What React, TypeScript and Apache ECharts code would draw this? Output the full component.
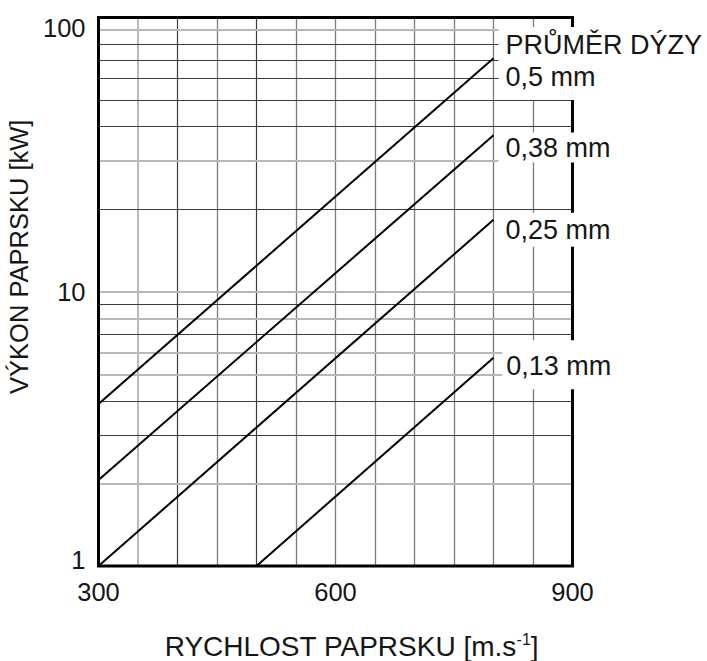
import React, { useEffect, useRef } from "react";
import * as echarts from "echarts";

// ---- data ----
const xMin = 300;
const xMax = 900;
const xTickStep = 300;
const yTicks = [1, 10, 100];
const verticalGrid = [350, 400, 450, 500, 550, 600, 650, 700, 750, 800, 850];
const verticalShade = ["light", "dark", "mid", "dark", "mid", "mid", "mid", "mid", "mid", "mid", "mid"];
const horizontalGrid = [2, 3, 4, 5, 6, 7, 8, 9, 10, 20, 30, 40, 50, 60, 70, 80, 90];
const horizontalShade = ["light", "dark", "dark", "light", "light", "dark", "light", "dark", "light", "dark", "light", "dark", "dark", "dark", "dark", "dark", "light"];

const nozzleLabels = ["0,5 mm", "0,38 mm", "0,25 mm", "0,13 mm"];
const headerLabel = "PRŮMĚR DÝZY";
const speeds05 = [300, 800];
const power05 = [3.9, 71];
const speeds038 = [300, 800];
const power038 = [2.06, 37.2];
const speeds025 = [300, 800];
const power025 = [1, 18.3];
const speeds013 = [500, 800];
const power013 = [1, 5.75];

const yTitle = "VÝKON PAPRSKU [kW]";
const xTitleMain = "RYCHLOST PAPRSKU [m.s";
const xTitleSup = "-1";
const xTitleEnd = "]";

const FONT = "'Liberation Sans', Arial, Helvetica, sans-serif";
const TXT = "#161616";
const LABEL_FS = 27;

const shadeStyle: Record<string, any> = {
  light: { color: "#b8b8b8", width: 2 },
  mid: { color: "#7c7c7c", width: 1.3 },
  dark: { color: "#3c3c3c", width: 1.2 },
};

// label placement styles (per series)
const labelStyles = [
  { offset: [0, 5.2], padding: [2, 0, 7, 7], lh: 32 },
  { offset: [0, 12.3], padding: [2, 6, 2, 7], lh: 26 },
  { offset: [0, 10], padding: [3, 6, 3, 7], lh: 28 },
  { offset: [3.7, 7.2], padding: [11, 4, 8, 4], lh: 30 },
];

function buildSeries(name: string, xs: number[], ys: number[], idx: number, header?: string) {
  const st = labelStyles[idx];
  const data: any[] = xs.map((x, i) => [x, ys[i]]);
  const last = data.length - 1;
  data[last] = {
    value: data[last],
    label: {
      show: true,
      position: "right",
      distance: 5,
      offset: st.offset,
      backgroundColor: "#ffffff",
      padding: st.padding,
      align: "left",
      formatter: header ? `{h|${header}}\n{v|${name}}` : `{v|${name}}`,
      rich: {
        h: { fontSize: LABEL_FS, lineHeight: 32, fontFamily: FONT, color: TXT },
        v: { fontSize: LABEL_FS, lineHeight: st.lh, fontFamily: FONT, color: TXT },
      },
    },
  };
  return {
    name,
    type: "line",
    data,
    z: 3,
    showSymbol: true,
    symbol: "circle",
    symbolSize: 0,
    lineStyle: { color: "#000", width: 2 },
    itemStyle: { color: "#000" },
    silent: true,
    clip: false,
  };
}

export default function App() {
  const ref = useRef<HTMLDivElement>(null);
  useEffect(() => {
    document.body.style.margin = "0";
    document.body.style.overflow = "hidden";
    document.documentElement.style.overflow = "hidden";
    const chart = echarts.init(ref.current!, null, { renderer: "svg" });
    const gridLines: any[] = [];
    verticalGrid.forEach((v, i) => {
      gridLines.push({ xAxis: v, lineStyle: { ...shadeStyle[verticalShade[i]], type: "solid" } });
    });
    horizontalGrid.forEach((v, i) => {
      gridLines.push({ yAxis: v, lineStyle: { ...shadeStyle[horizontalShade[i]], type: "solid" } });
    });
    chart.setOption({
      animation: false,
      backgroundColor: "#ffffff",
      grid: {
        left: 98.5,
        top: 17.5,
        width: 474,
        height: 548.5,
        outerBoundsMode: "none",
        containLabel: false,
        show: true,
        z: 2,
        borderColor: "#000",
        borderWidth: 3,
        backgroundColor: "transparent",
      },
      xAxis: {
        type: "value",
        min: xMin,
        max: xMax,
        interval: xTickStep,
        axisLine: { show: false },
        axisTick: { show: false },
        splitLine: { show: false },
        axisLabel: { fontSize: 25.5, fontFamily: FONT, color: TXT, margin: 13 },
        name: `{a|${xTitleMain}}{s|${xTitleSup}}{a|${xTitleEnd}}`,
        nameLocation: "middle",
        nameGap: 65,
        nameTextStyle: {
          padding: [0, 0, 0, 32],
          rich: {
            a: { fontSize: 28, lineHeight: 30, fontFamily: FONT, color: TXT },
            s: { fontSize: 16, lineHeight: 16, fontFamily: FONT, color: TXT, verticalAlign: "top" },
          },
        },
      },
      yAxis: {
        type: "log",
        logBase: 10,
        min: yTicks[0],
        max: yTicks[yTicks.length - 1],
        axisLine: { show: false },
        axisTick: { show: false },
        splitLine: { show: false },
        minorSplitLine: { show: false },
        axisLabel: {
          margin: 13,
          formatter: (v: number) => (v >= 100 ? `{t|${v}}` : v <= 1 ? `{b|${v}}` : `{m|${v}}`),
          rich: {
            t: { fontSize: 25.5, fontFamily: FONT, color: TXT, padding: [21, 0, 0, 0] },
            m: { fontSize: 25.5, fontFamily: FONT, color: TXT },
            b: { fontSize: 25.5, fontFamily: FONT, color: TXT, padding: [0, 0, 12, 0] },
          },
        },
        name: yTitle,
        nameLocation: "middle",
        nameRotate: 90,
        nameGap: 57,
        nameTextStyle: { fontSize: 25.5, fontFamily: FONT, color: TXT, padding: [0, 0, 0, 70] },
      },
      series: [
        {
          name: "grid",
          type: "line",
          data: [],
          z: 1,
          silent: true,
          markLine: {
            z: 1,
            silent: true,
            symbol: "none",
            animation: false,
            label: { show: false },
            data: gridLines,
          },
        },
        buildSeries(nozzleLabels[0], speeds05, power05, 0, headerLabel),
        buildSeries(nozzleLabels[1], speeds038, power038, 1),
        buildSeries(nozzleLabels[2], speeds025, power025, 2),
        buildSeries(nozzleLabels[3], speeds013, power013, 3),
      ],
    });
    return () => chart.dispose();
  }, []);
  return <div ref={ref} style={{ width: 707, height: 661 }} />;
}
